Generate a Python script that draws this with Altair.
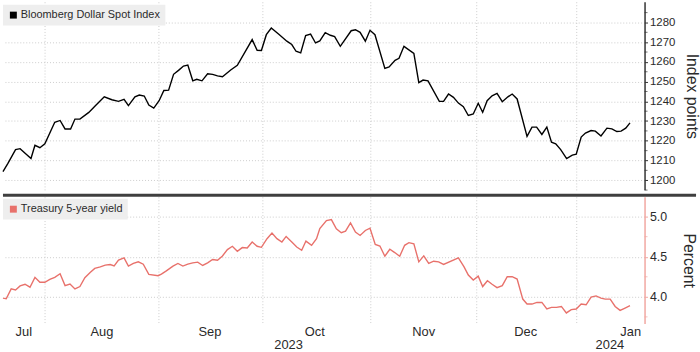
import altair as alt
import pandas as pd

# ---- data (t = trading-day position from the left edge) ----
usd_t = [0.0, 1.0, 2.54, 3.46, 5.66, 6.46, 7.46, 8.46, 10.46, 11.54, 12.54, 13.66, 14.54, 15.54,
         17.34, 18.66, 20.46, 22.0, 23.34, 24.46, 25.34, 26.66, 27.54, 28.54, 29.46, 30.46, 31.54,
         32.5, 33.46, 34.46, 35.46, 36.46, 37.34, 38.34, 39.14, 40.2, 41.34, 42.34, 43.34, 44.34,
         46.0, 47.34, 50.34, 51.34, 52.2, 53.2, 54.2, 55.66, 57.34, 58.34, 59.2, 60.14, 61.14,
         62.14, 63.14, 64.0, 65.1, 66.14, 67.0, 68.14, 70.34, 71.2, 72.14, 73.2, 74.14, 75.14,
         77.14, 78.0, 79.2, 80.0, 81.0, 83.0, 84.0, 84.86, 85.86, 88.14, 89.0, 90.0, 91.0, 92.0,
         93.0, 94.0, 95.0, 96.0, 96.9, 97.8, 98.8, 99.8, 100.86, 102.0, 102.86, 103.86, 105.86,
         106.86, 107.8, 108.86, 109.86, 110.8, 111.66, 112.66, 113.86, 115.0, 115.8, 116.8,
         117.66, 118.8, 119.66, 120.8, 122.0, 123.0, 124.0, 124.86, 125.8, 126.66]
usd_v = [1204.3, 1208.5, 1215.5, 1216.0, 1211.0, 1217.7, 1216.5, 1218.5, 1229.4, 1230.3, 1226.0,
         1226.0, 1231.0, 1231.0, 1234.4, 1237.8, 1242.3, 1240.8, 1240.0, 1241.0, 1237.8, 1242.3,
         1243.2, 1242.7, 1238.1, 1236.6, 1240.3, 1245.5, 1245.7, 1253.7, 1255.7, 1257.9, 1258.4,
         1250.4, 1251.2, 1250.4, 1254.0, 1253.7, 1252.9, 1252.5, 1255.9, 1258.3, 1271.3, 1265.9,
         1265.8, 1273.8, 1277.2, 1274.1, 1270.5, 1268.8, 1265.4, 1264.6, 1273.3, 1274.1, 1269.6,
         1270.6, 1274.8, 1273.5, 1272.8, 1267.9, 1275.8, 1276.3, 1275.0, 1270.5, 1276.0, 1273.8,
         1256.7, 1257.4, 1260.8, 1261.8, 1267.9, 1264.3, 1249.5, 1250.8, 1250.4, 1240.0, 1240.0,
         1243.7, 1242.0, 1239.1, 1237.3, 1232.8, 1233.6, 1239.0, 1234.4, 1240.3, 1242.8, 1244.0,
         1239.8, 1242.3, 1243.7, 1241.2, 1222.2, 1226.9, 1226.9, 1223.2, 1226.9, 1219.3, 1218.5,
         1215.5, 1211.0, 1212.7, 1213.2, 1221.9, 1223.9, 1225.2, 1224.9, 1222.4, 1226.4, 1226.0,
         1224.7, 1224.9, 1226.4, 1229.1]

ust_t = [0.0, 0.66, 1.66, 2.54, 3.46, 4.46, 5.46, 6.46, 7.46, 8.46, 9.46, 10.46, 11.54, 12.54,
         13.54, 14.54, 15.54, 16.54, 17.66, 18.54, 19.66, 20.66, 21.66, 22.46, 23.34, 24.46,
         25.34, 26.34, 27.34, 28.34, 29.46, 31.34, 32.0, 33.0, 34.34, 35.34, 36.34, 37.34, 38.34,
         39.34, 40.34, 41.34, 42.34, 43.34, 44.34, 45.34, 46.34, 47.34, 48.34, 49.34, 50.34,
         51.34, 52.2, 53.34, 54.34, 55.34, 56.34, 57.2, 58.34, 59.34, 60.34, 61.2, 62.34, 63.34,
         64.0, 65.34, 66.34, 67.34, 68.34, 69.2, 70.2, 71.2, 72.14, 73.2, 74.14, 75.2, 76.14,
         77.14, 78.14, 79.14, 80.14, 81.14, 82.0, 83.0, 84.0, 85.0, 86.0, 87.0, 88.0, 89.0, 92.0,
         93.14, 94.0, 95.0, 96.0, 96.9, 97.86, 98.8, 99.8, 100.86, 101.86, 102.86, 103.86, 105.0,
         105.86, 106.86, 107.86, 108.86, 109.86, 110.8, 111.8, 112.8, 113.8, 114.8, 115.8, 116.8,
         117.8, 118.8, 119.8, 120.8, 121.66, 122.66, 123.66, 124.66, 125.66, 126.66]
ust_v = [3.984, 3.975, 4.099, 4.086, 4.136, 4.157, 4.120, 4.243, 4.181, 4.181, 4.218, 4.243, 4.288,
         4.140, 4.160, 4.099, 4.128, 4.238, 4.305, 4.354, 4.374, 4.395, 4.403, 4.386, 4.457, 4.486,
         4.383, 4.416, 4.436, 4.407, 4.280, 4.263, 4.284, 4.323, 4.383, 4.416, 4.383, 4.407, 4.424,
         4.432, 4.391, 4.424, 4.465, 4.457, 4.510, 4.589, 4.630, 4.568, 4.614, 4.609, 4.683, 4.630,
         4.617, 4.725, 4.794, 4.725, 4.683, 4.753, 4.683, 4.621, 4.580, 4.695, 4.642, 4.725, 4.850,
         4.951, 4.963, 4.848, 4.799, 4.819, 4.922, 4.807, 4.765, 4.827, 4.856, 4.654, 4.633, 4.506,
         4.593, 4.552, 4.506, 4.642, 4.675, 4.662, 4.436, 4.510, 4.416, 4.444, 4.436, 4.404, 4.485,
         4.374, 4.272, 4.210, 4.257, 4.128, 4.201, 4.157, 4.115, 4.140, 4.251, 4.251, 4.222, 3.972,
         3.910, 3.910, 3.930, 3.930, 3.848, 3.868, 3.868, 3.880, 3.799, 3.840, 3.848, 3.910, 3.901,
         3.996, 4.012, 3.984, 3.972, 3.972, 3.880, 3.831, 3.860, 3.889]

month_bounds = [8.46, 31.46, 52.34, 74.14, 95.66, 115.86]   # first trading day of Aug..Jan
month_names = ["Jul", "Aug", "Sep", "Oct", "Nov", "Dec", "Jan"]
month_pos = [4.2, 20.0, 41.8, 63.0, 85.0, 105.6, 126.8]
year_names = ["2023", "2024"]
year_pos = [57.7, 122.6]

usd_major = [1200, 1210, 1220, 1230, 1240, 1250, 1260, 1270, 1280]
usd_minor = [1195, 1205, 1215, 1225, 1235, 1245, 1255, 1265, 1275, 1285]
ust_major = [4.0, 4.5, 5.0]
ust_minor = [3.75, 4.25, 4.75]

USD_NAME = "Bloomberg Dollar Spot Index"
UST_NAME = "Treasury 5-year yield"

# ---- layout / style ----
W = 648
H_TOP = 190
H_BOT = 128
X_DOM = [0, 129.6]
NARROW = "Liberation Sans Narrow, Liberation Sans, sans-serif"
REG = "Liberation Sans, Arial, sans-serif"
GRID = "#cccccc"
RED = "#e8716b"
RED_AXIS = "#f1a7a1"
TXT = "#2a2a2a"
DARK_AXIS = "#333333"

usd = pd.DataFrame({"t": usd_t, "v": usd_v, "series": USD_NAME})
ust = pd.DataFrame({"t": ust_t, "v": ust_v, "series": UST_NAME})
months = pd.DataFrame({"t": month_pos, "label": month_names})
years = pd.DataFrame({"t": year_pos, "label": year_names})

xscale = alt.Scale(domain=X_DOM, nice=False, zero=False)
xaxis = alt.Axis(values=month_bounds, tickCount=50, grid=True, gridColor=GRID, gridDash=[1, 2],
                 gridWidth=1, labels=False, ticks=False, domain=False, title=None)


def legend(y):
    return alt.Legend(orient="none", legendX=0, legendY=y, title=None, fillColor="#eeeeee",
                      padding=5, symbolType="square", symbolSize=49, symbolStrokeWidth=0,
                      labelFont=REG, labelFontSize=11, labelColor=TXT, labelOffset=2)


def minor_ticks(values, yscale, color):
    return alt.Chart(pd.DataFrame({"v": values})).mark_tick(
        color=color, size=3, thickness=1, orient="horizontal").encode(
        x=alt.value(W + 1.5), y=alt.Y("v:Q", scale=yscale))


# ---- top panel ----
top_scale = alt.Scale(domain=[1195.1, 1290.5], nice=False, zero=False)
top_axis = alt.Axis(
    orient="right", values=usd_major, tickCount=50, format="d", labelOverlap=False,
    grid=True, gridColor=GRID, gridDash=[1, 2],
    tickSize=3, tickColor=DARK_AXIS, domainColor=DARK_AXIS, domainWidth=1.5,
    labelFont=NARROW, labelFontSize=11.5, labelColor=TXT, labelPadding=2,
    title="Index points", titleFont=REG, titleFontSize=16, titleFontWeight="normal",
    titleColor=TXT, titlePadding=9)

top_line = alt.Chart(usd).mark_line(color="black", strokeWidth=1.4).encode(
    x=alt.X("t:Q", scale=xscale, axis=xaxis),
    y=alt.Y("v:Q", scale=top_scale, axis=top_axis),
)
top_key = alt.Chart(usd.head(1)).transform_filter("false").mark_square(opacity=1).encode(
    x="t:Q", y="v:Q",
    color=alt.Color("series:N", scale=alt.Scale(domain=[USD_NAME], range=["black"]), legend=legend(3)),
)
top = alt.layer(top_line, minor_ticks(usd_minor, top_scale, DARK_AXIS), top_key).properties(
    width=W, height=H_TOP)

# ---- bottom panel ----
bot_scale = alt.Scale(domain=[3.667, 5.247], nice=False, zero=False)
bot_axis = alt.Axis(
    orient="right", values=ust_major, tickCount=50, format=".1f", labelOverlap=False,
    grid=True, gridColor=GRID, gridDash=[1, 2],
    tickSize=3, tickColor=RED_AXIS, domainColor=RED_AXIS, domainWidth=1.5,
    labelFont=NARROW, labelFontSize=12.5, labelColor=TXT, labelPadding=2,
    title="Percent", titleFont=REG, titleFontSize=16, titleFontWeight="normal",
    titleColor=TXT, titlePadding=14)

bot_line = alt.Chart(ust).mark_line(color=RED, strokeWidth=1.4).encode(
    x=alt.X("t:Q", scale=xscale, axis=xaxis),
    y=alt.Y("v:Q", scale=bot_scale, axis=bot_axis),
)
bot_key = alt.Chart(ust.head(1)).transform_filter("false").mark_square(opacity=1).encode(
    x="t:Q", y="v:Q",
    color=alt.Color("series:N", scale=alt.Scale(domain=[UST_NAME], range=[RED]), legend=legend(2)),
)
separator = alt.Chart(pd.DataFrame({"k": [0]})).mark_rule(color="#3f3f3f", strokeWidth=3).encode(
    x=alt.value(0), x2=alt.value(700), y=alt.value(-1.5))
month_text = alt.Chart(months).mark_text(font=NARROW, fontSize=13, color=TXT, baseline="middle").encode(
    x=alt.X("t:Q", scale=xscale), y=alt.value(H_BOT + 9), text="label:N")
year_text = alt.Chart(years).mark_text(font=NARROW, fontSize=13, color=TXT, baseline="middle").encode(
    x=alt.X("t:Q", scale=xscale), y=alt.value(H_BOT + 22), text="label:N")

bottom = alt.layer(bot_line, minor_ticks(ust_minor, bot_scale, RED_AXIS), bot_key, separator,
                   month_text, year_text).properties(width=W, height=H_BOT)

chart = alt.vconcat(top, bottom, spacing=3).resolve_scale(color="independent").properties(
    padding=0, background="white").configure_view(stroke=None)

chart.save("out.html", embed_options={"renderer": "svg", "actions": False})
